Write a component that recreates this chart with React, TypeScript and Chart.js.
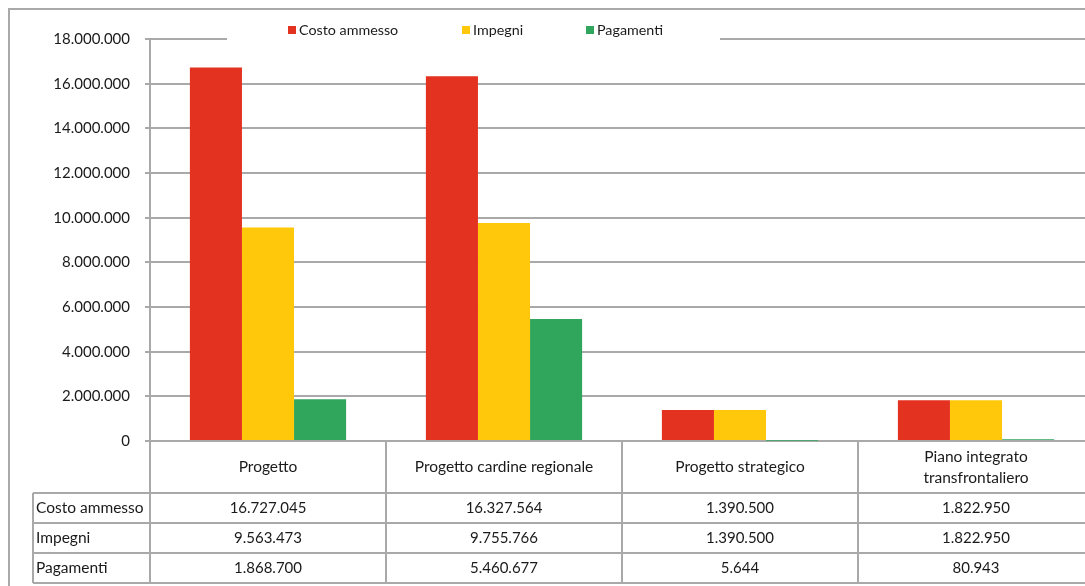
import React, { useEffect, useRef } from "react";
import { Chart, registerables } from "chart.js";

Chart.register(...registerables);

const categories: string[][] = [
  ["Progetto"],
  ["Progetto cardine regionale"],
  ["Progetto strategico"],
  ["Piano integrato", "transfrontaliero"],
];
const seriesNames = ["Costo ammesso", "Impegni", "Pagamenti"];
const costoAmmesso = [16727045, 16327564, 1390500, 1822950];
const impegni = [9563473, 9755766, 1390500, 1822950];
const pagamenti = [1868700, 5460677, 5644, 80943];
const seriesColors = ["#E3321F", "#FFC80A", "#2FA65C"];
const yMax = 18000000;
const yStep = 2000000;

const FONT = "Lato, 'DejaVu Sans', sans-serif";
const GRID = "#a9a9a9";
const TEXT = "#1a1a1a";

function fmt(v: number): string {
  return String(Math.round(v)).replace(/\B(?=(\d{3})+(?!\d))/g, ".");
}

const framePlugin = {
  id: "frame",
  beforeDraw(chart: any) {
    const ctx = chart.ctx;
    ctx.save();
    ctx.fillStyle = "#ffffff";
    ctx.fillRect(0, 0, chart.width, chart.height);
    ctx.strokeStyle = GRID;
    ctx.lineWidth = 2;
    ctx.beginPath();
    ctx.moveTo(9, chart.height + 2);
    ctx.lineTo(9, 9);
    ctx.lineTo(chart.width + 2, 9);
    ctx.stroke();
    ctx.restore();
  },
};

const legendPlugin = {
  id: "customLegend",
  afterDraw(chart: any) {
    const ctx = chart.ctx;
    const top = chart.chartArea.top;
    ctx.save();
    ctx.fillStyle = "#ffffff";
    ctx.fillRect(227, top - 20, 493, 24);
    const xs = [288, 462, 586];
    const cy = top - 9;
    ctx.font = `14.3px ${FONT}`;
    ctx.textBaseline = "middle";
    ctx.textAlign = "left";
    chart.data.datasets.forEach((ds: any, i: number) => {
      ctx.fillStyle = ds.backgroundColor;
      ctx.fillRect(xs[i], cy - 4, 8, 8);
      ctx.fillStyle = TEXT;
      ctx.fillText(ds.label, xs[i] + 11, cy);
    });
    ctx.restore();
  },
};

const tablePlugin = {
  id: "dataTable",
  afterDraw(chart: any) {
    const ctx = chart.ctx;
    const area = chart.chartArea;
    const n = chart.data.labels.length;
    const w = (area.right - area.left) / n;
    const y0 = area.bottom;
    const rowH = 30;
    const headerBottom = y0 + 52;
    const tableBottom = headerBottom + rowH * seriesNames.length;
    const labelLeft = 33;
    ctx.save();
    ctx.strokeStyle = GRID;
    ctx.lineWidth = 2;
    ctx.beginPath();
    for (let i = 0; i <= n; i++) {
      const x = area.left + i * w;
      ctx.moveTo(x, y0);
      ctx.lineTo(x, tableBottom);
    }
    ctx.moveTo(labelLeft, headerBottom);
    ctx.lineTo(labelLeft, tableBottom);
    for (let r = 0; r <= seriesNames.length; r++) {
      const y = headerBottom + r * rowH;
      ctx.moveTo(labelLeft, y);
      ctx.lineTo(area.right + 10, y);
    }
    ctx.stroke();

    ctx.fillStyle = TEXT;
    ctx.textBaseline = "middle";
    ctx.font = `15.5px ${FONT}`;
    ctx.textAlign = "center";
    const headMid = (y0 + headerBottom) / 2;
    chart.data.labels.forEach((lab: any, i: number) => {
      const lines: string[] = Array.isArray(lab) ? lab : [lab];
      const cx = area.left + (i + 0.5) * w;
      const lh = 21;
      lines.forEach((ln, k) => {
        ctx.fillText(ln, cx, headMid + (k - (lines.length - 1) / 2) * lh);
      });
    });
    chart.data.datasets.forEach((ds: any, r: number) => {
      const cy = headerBottom + r * rowH + rowH / 2;
      ctx.textAlign = "left";
      ctx.font = `15.5px ${FONT}`;
      ctx.fillText(ds.label, labelLeft + 3, cy);
      ctx.textAlign = "center";
      ctx.font = `15px ${FONT}`;
      ds.data.forEach((v: number, i: number) => {
        ctx.fillText(fmt(v), area.left + (i + 0.5) * w, cy);
      });
    });
    ctx.restore();
  },
};

export default function App() {
  const ref = useRef<HTMLCanvasElement | null>(null);
  useEffect(() => {
    if (!ref.current) return;
    const data = [costoAmmesso, impegni, pagamenti];
    const chart = new Chart(ref.current, {
      type: "bar",
      data: {
        labels: categories,
        datasets: seriesNames.map((name, i) => ({
          label: name,
          data: data[i],
          backgroundColor: seriesColors[i],
          borderWidth: 0,
          barPercentage: 1.0,
          categoryPercentage: 0.662,
        })),
      },
      plugins: [framePlugin, legendPlugin, tablePlugin],
      options: {
        animation: false,
        responsive: false,
        layout: { padding: { top: 39, left: 0, right: 6, bottom: 0 } },
        plugins: {
          legend: { display: false },
          tooltip: { enabled: false },
          title: { display: false },
        },
        scales: {
          x: {
            grid: { display: false },
            border: { display: true, color: GRID, width: 2 },
            ticks: { display: false },
            afterFit: (scale: any) => {
              scale.height = 145;
            },
          },
          y: {
            min: 0,
            max: yMax,
            ticks: {
              stepSize: yStep,
              padding: 15,
              color: TEXT,
              font: { family: FONT, size: 15 },
              callback: (v: any) => fmt(Number(v)),
            },
            grid: { color: GRID, lineWidth: 2, tickLength: 5, drawTicks: true },
            border: { display: true, color: GRID, width: 2 },
            afterFit: (scale: any) => {
              scale.width = 150;
            },
          },
        },
      },
    });
    return () => chart.destroy();
  }, []);
  return (
    <div
      style={{
        position: "fixed",
        left: 0,
        top: 0,
        width: 1085,
        height: 586,
        overflow: "hidden",
        background: "#fff",
      }}
    >
      <canvas ref={ref} width={1100} height={586} style={{ display: "block" }} />
    </div>
  );
}
